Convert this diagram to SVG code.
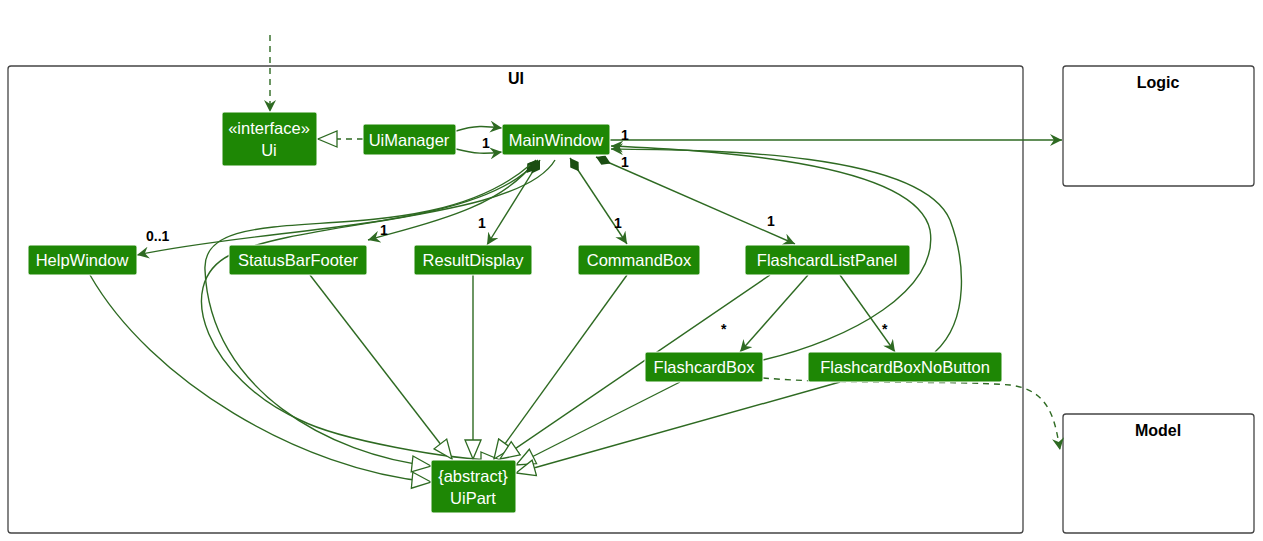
<svg xmlns="http://www.w3.org/2000/svg" width="1263" height="541" viewBox="0 0 1263 541">
<defs>
<style>
.pkg{fill:#fff;stroke:#444;stroke-width:1.3}
.pt{font:bold 16px "Liberation Sans",Arial,sans-serif;fill:#000;text-anchor:middle}
.n{fill:#1E8705;stroke:#fff;stroke-width:1}
.nt{font:16.5px "Liberation Sans",Arial,sans-serif;fill:#fff;text-anchor:middle}
.e{fill:none;stroke:#2E6A22;stroke-width:1.4}
.d{stroke-dasharray:6,5}
.l{font:bold 14px "Liberation Sans",Arial,sans-serif;fill:#000}
</style>
<marker id="ar" markerWidth="14" markerHeight="12" refX="12" refY="6" orient="auto" markerUnits="userSpaceOnUse"><path d="M0,0 L12,6 L0,12 L4,6 Z" fill="#2E6A22"/></marker>
<marker id="tri" markerWidth="22" markerHeight="20" refX="20" refY="10" orient="auto" markerUnits="userSpaceOnUse"><path d="M1,2 L20,10 L1,18 Z" fill="#fff" stroke="#2E6A22" stroke-width="1.3"/></marker>
<marker id="dia" markerWidth="20" markerHeight="12" refX="1" refY="6" orient="auto" markerUnits="userSpaceOnUse"><path d="M1,6 L9,1 L17,6 L9,11 Z" fill="#1B4E12"/></marker>
</defs>
<rect width="1263" height="541" fill="#fff"/>
<g id="packages">
<rect class="pkg" x="8" y="66" width="1015" height="467" rx="3"/>
<text class="pt" x="516" y="84">UI</text>
<rect class="pkg" x="1063" y="66" width="191" height="120" rx="3"/>
<text class="pt" x="1158" y="88">Logic</text>
<rect class="pkg" x="1063" y="414" width="191" height="119" rx="3"/>
<text class="pt" x="1158" y="436">Model</text>
</g>
<g id="connectors">
<path class="e d" d="M270,35 L270,112" marker-end="url(#ar)"/>
<path class="e d" d="M363,139 L318,139" marker-end="url(#tri)"/>
<path class="e" d="M456,131 C475,125 485,126 502,128" marker-end="url(#ar)"/>
<path class="e" d="M456,149 C475,154 485,154 502,152" marker-end="url(#ar)"/>
<path class="e" d="M610,140 L1062,140" marker-end="url(#ar)"/>
<path class="e" d="M538,160 C480,230 280,225 137,255" marker-start="url(#dia)" marker-end="url(#ar)"/>
<path class="e" d="M536,160 C500,210 420,225 368,240" marker-start="url(#dia)" marker-end="url(#ar)"/>
<path class="e" d="M540,160 L487,245" marker-start="url(#dia)" marker-end="url(#ar)"/>
<path class="e" d="M570,158 L627,244" marker-start="url(#dia)" marker-end="url(#ar)"/>
<path class="e" d="M596,157 L795,244" marker-start="url(#dia)" marker-end="url(#ar)"/>
<path class="e" d="M530,165 C420,260 200,190 205,270 C210,390 330,455 431,466" marker-end="url(#tri)"/>
<path class="e" d="M555,160 C520,220 300,220 230,255 C170,285 210,380 300,420 C340,440 450,460 500,460" marker-end="url(#tri)"/>
<path class="e" d="M90,275 C150,380 300,470 431,482" marker-end="url(#tri)"/>
<path class="e" d="M310,275 L452,459" marker-end="url(#tri)"/>
<path class="e" d="M473,275 L473,459" marker-end="url(#tri)"/>
<path class="e" d="M627,275 L494,459" marker-end="url(#tri)"/>
<path class="e" d="M770,275 L500,459" marker-end="url(#tri)"/>
<path class="e" d="M680,382 L516,465" marker-end="url(#tri)"/>
<path class="e" d="M840,382 L516,473" marker-end="url(#tri)"/>
<path class="e" d="M808,275 L740,352" marker-end="url(#ar)"/>
<path class="e" d="M840,275 L895,352" marker-end="url(#ar)"/>
<path class="e" d="M763,360 C850,340 940,290 930,230 C915,160 700,150 611,146" marker-end="url(#ar)"/>
<path class="e" d="M935,352 C970,320 965,260 950,220 C920,150 700,150 611,149" marker-end="url(#ar)"/>
<path class="e d" d="M763,378 C850,385 950,380 1010,385 C1050,390 1055,420 1060,450" marker-end="url(#ar)"/>
</g>
<g id="labels">
<text class="l" x="482" y="148">1</text>
<text class="l" x="621" y="140">1</text>
<text class="l" x="621" y="167">1</text>
<text class="l" x="146" y="241">0..1</text>
<text class="l" x="380" y="235">1</text>
<text class="l" x="478" y="228">1</text>
<text class="l" x="614" y="228">1</text>
<text class="l" x="767" y="226">1</text>
<text class="l" x="721" y="334">*</text>
<text class="l" x="882" y="334">*</text>
</g>
<g id="Ui"><rect class="n" x="222" y="112" width="95" height="54" rx="2"/><text class="nt" x="269" y="134">«interface»</text><text class="nt" x="269" y="156">Ui</text></g>
<g id="UiManager"><rect class="n" x="363" y="124" width="93" height="31" rx="2"/><text class="nt" x="409" y="146">UiManager</text></g>
<g id="MainWindow"><rect class="n" x="502" y="124" width="108" height="31" rx="2"/><text class="nt" x="556" y="146">MainWindow</text></g>
<g id="HelpWindow"><rect class="n" x="28" y="245" width="109" height="30" rx="2"/><text class="nt" x="82" y="266">HelpWindow</text></g>
<g id="StatusBarFooter"><rect class="n" x="229" y="245" width="138" height="30" rx="2"/><text class="nt" x="298" y="266">StatusBarFooter</text></g>
<g id="ResultDisplay"><rect class="n" x="414" y="245" width="118" height="30" rx="2"/><text class="nt" x="473" y="266">ResultDisplay</text></g>
<g id="CommandBox"><rect class="n" x="578" y="245" width="122" height="30" rx="2"/><text class="nt" x="639" y="266">CommandBox</text></g>
<g id="FlashcardListPanel"><rect class="n" x="745" y="245" width="165" height="30" rx="2"/><text class="nt" x="827" y="266">FlashcardListPanel</text></g>
<g id="FlashcardBox"><rect class="n" x="645" y="352" width="118" height="30" rx="2"/><text class="nt" x="704" y="373">FlashcardBox</text></g>
<g id="FlashcardBoxNoButton"><rect class="n" x="808" y="352" width="194" height="30" rx="2"/><text class="nt" x="905" y="373">FlashcardBoxNoButton</text></g>
<g id="UiPart"><rect class="n" x="431" y="460" width="85" height="53" rx="2"/><text class="nt" x="473" y="482">{abstract}</text><text class="nt" x="473" y="504">UiPart</text></g>
</svg>
